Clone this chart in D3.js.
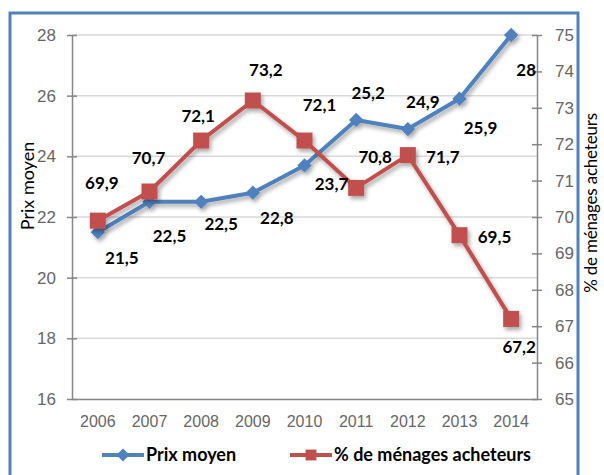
<!DOCTYPE html>
<html>
<head>
<meta charset="utf-8">
<script src="https://cdn.jsdelivr.net/npm/d3@7"></script>
<style>
  body { margin: 0; background: #fff; }
  svg { display: block; font-family: Lato, "Open Sans", sans-serif; }
</style>
</head>
<body>
<svg width="604" height="475"></svg>
<script>
const years = ['2006', '2007', '2008', '2009', '2010', '2011', '2012', '2013', '2014']
const prixMoyen = [21.5, 22.5, 22.5, 22.8, 23.7, 25.2, 24.9, 25.9, 28]
const menagesAcheteurs = [69.9, 70.7, 72.1, 73.2, 72.1, 70.8, 71.7, 69.5, 67.2]
const leftTicks = [16, 18, 20, 22, 24, 26, 28]
const rightTicks = [65, 66, 67, 68, 69, 70, 71, 72, 73, 74, 75]

// label placement, offsets from the point (Excel put them by hand)
const prixLabelOffset = [[24, 26], [20, 34], [20, 22], [24, 25], [27, 18], [12, -27], [15, -27], [21, 29], [15, 35]]
const menLabelOffset = [[4, -38], [-1, -34], [-3, -25], [13, -31], [15, -36], [19, -31], [35, 2], [35, 2], [8, 28]]

const blue = '#4f81bd'
const red = '#c0504d'
const fmt = v => String(v).replace('.', ',')

const svg = d3.select('svg')

const defs = svg.append('defs')
defs.append('filter')
    .attr('id', 'shadow')
    .attr('x', '-20%').attr('y', '-20%').attr('width', '140%').attr('height', '140%')
  .append('feDropShadow')
    .attr('dx', 2).attr('dy', 3)
    .attr('stdDeviation', 2)
    .attr('flood-color', '#000')
    .attr('flood-opacity', 0.35)

// outer frame
svg.append('rect')
    .attr('x', 10).attr('y', 13)
    .attr('width', 568).attr('height', 480)
    .attr('fill', 'none')
    .attr('stroke', blue)
    .attr('stroke-width', 3)

const plotL = 72, plotR = 537, plotT = 35, plotB = 399

const x = d3.scaleBand().domain(years).range([plotL, plotR])
const yL = d3.scaleLinear().domain([16, 28]).range([plotB, plotT])
const yR = d3.scaleLinear().domain([65, 75]).range([plotB, plotT])
const cx = d => x(d) + x.bandwidth() / 2

// gridlines
svg.append('g').selectAll('line')
    .data(leftTicks.slice(1))
    .enter().append('line')
        .attr('x1', plotL).attr('x2', plotR)
        .attr('y1', d => yL(d)).attr('y2', d => yL(d))
        .attr('stroke', '#d9d9d9')
        .attr('stroke-width', 1.5)

const axisStyle = g => {
    g.select('.domain').attr('stroke', '#868686').attr('stroke-width', 1.5)
    g.selectAll('.tick line').attr('stroke', '#868686').attr('stroke-width', 1.5)
    g.selectAll('.tick text').attr('fill', '#666').style('font-size', '17px')
}

// bottom axis
svg.append('g')
    .attr('transform', `translate(0,${plotB})`)
    .call(d3.axisBottom(x).tickSize(0).tickPadding(17))
    .call(axisStyle)
    .call(g => g.selectAll('.tick text').style('font-size', '16px'))

// left axis
svg.append('g')
    .attr('transform', `translate(${plotL},0)`)
    .call(d3.axisLeft(yL).tickValues(leftTicks).tickSizeInner(5).tickSizeOuter(0).tickPadding(11))
    .call(axisStyle)
    .call(g => g.selectAll('.tick line').attr('x2', 5).attr('x1', -5))

// right axis
svg.append('g')
    .attr('transform', `translate(${plotR},0)`)
    .call(d3.axisRight(yR).tickValues(rightTicks).tickSizeInner(5).tickSizeOuter(0).tickPadding(13))
    .call(axisStyle)
    .call(g => g.selectAll('.tick line').attr('x1', -5).attr('x2', 5))

// axis titles
svg.append('text')
    .attr('transform', 'translate(34,186) rotate(-90)')
    .attr('text-anchor', 'middle')
    .style('font-size', '18px')
    .attr('fill', '#000')
    .text('Prix moyen')

svg.append('text')
    .attr('transform', 'translate(597,203) rotate(-90)')
    .attr('text-anchor', 'middle')
    .style('font-size', '17px')
    .style('letter-spacing', '-0.2px')
    .attr('fill', '#000')
    .text('% de ménages acheteurs')

// series
const lineL = d3.line().x((d, i) => cx(years[i])).y(d => yL(d))
const lineR = d3.line().x((d, i) => cx(years[i])).y(d => yR(d))

const gPrix = svg.append('g').attr('filter', 'url(#shadow)')
gPrix.append('path')
    .datum(prixMoyen)
    .attr('d', lineL)
    .attr('fill', 'none')
    .attr('stroke', blue)
    .attr('stroke-width', 4)
    .attr('stroke-linejoin', 'round')
gPrix.selectAll('path.marker')
    .data(prixMoyen)
    .enter().append('path')
        .attr('class', 'marker')
        .attr('d', d3.symbol(d3.symbolDiamond2, 130))
        .attr('transform', (d, i) => `translate(${cx(years[i])},${yL(d)})`)
        .attr('fill', blue)

const gMen = svg.append('g').attr('filter', 'url(#shadow)')
gMen.append('path')
    .datum(menagesAcheteurs)
    .attr('d', lineR)
    .attr('fill', 'none')
    .attr('stroke', red)
    .attr('stroke-width', 4)
    .attr('stroke-linejoin', 'round')
gMen.selectAll('rect')
    .data(menagesAcheteurs)
    .enter().append('rect')
        .attr('x', (d, i) => cx(years[i]) - 8)
        .attr('y', d => yR(d) - 8)
        .attr('width', 16).attr('height', 16)
        .attr('fill', red)

// data labels
const labelStyle = sel => sel
    .attr('text-anchor', 'middle')
    .attr('dy', '0.36em')
    .style('font-size', '17px')
    .style('font-weight', 'bold')
    .attr('fill', '#000')

svg.append('g').selectAll('text')
    .data(prixMoyen)
    .enter().append('text')
        .attr('x', (d, i) => cx(years[i]) + prixLabelOffset[i][0])
        .attr('y', (d, i) => yL(d) + prixLabelOffset[i][1])
        .text(fmt)
        .call(labelStyle)

svg.append('g').selectAll('text')
    .data(menagesAcheteurs)
    .enter().append('text')
        .attr('x', (d, i) => cx(years[i]) + menLabelOffset[i][0])
        .attr('y', (d, i) => yR(d) + menLabelOffset[i][1])
        .text(fmt)
        .call(labelStyle)

// legend
const legend = svg.append('g').attr('transform', 'translate(0,455)')
const items = [
    { name: 'Prix moyen', color: blue, x: 102, marker: 'diamond' },
    { name: '% de ménages acheteurs', color: red, x: 290, marker: 'square' }
]
const li = legend.selectAll('g')
    .data(items)
    .enter().append('g')
        .attr('transform', d => `translate(${d.x},0)`)
li.append('line')
    .attr('x1', 0).attr('x2', 42)
    .attr('stroke', d => d.color)
    .attr('stroke-width', 4)
li.append('path')
    .attr('d', d => d.marker === 'diamond'
        ? d3.symbol(d3.symbolDiamond2, 110)()
        : d3.symbol(d3.symbolSquare2, 150)())
    .attr('transform', 'translate(21,0)')
    .attr('fill', d => d.color)
li.append('text')
    .attr('x', 44)
    .attr('dy', '0.36em')
    .style('font-size', '18px')
    .style('font-weight', 'bold')
    .attr('fill', '#000')
    .text(d => d.name)
</script>
</body>
</html>
